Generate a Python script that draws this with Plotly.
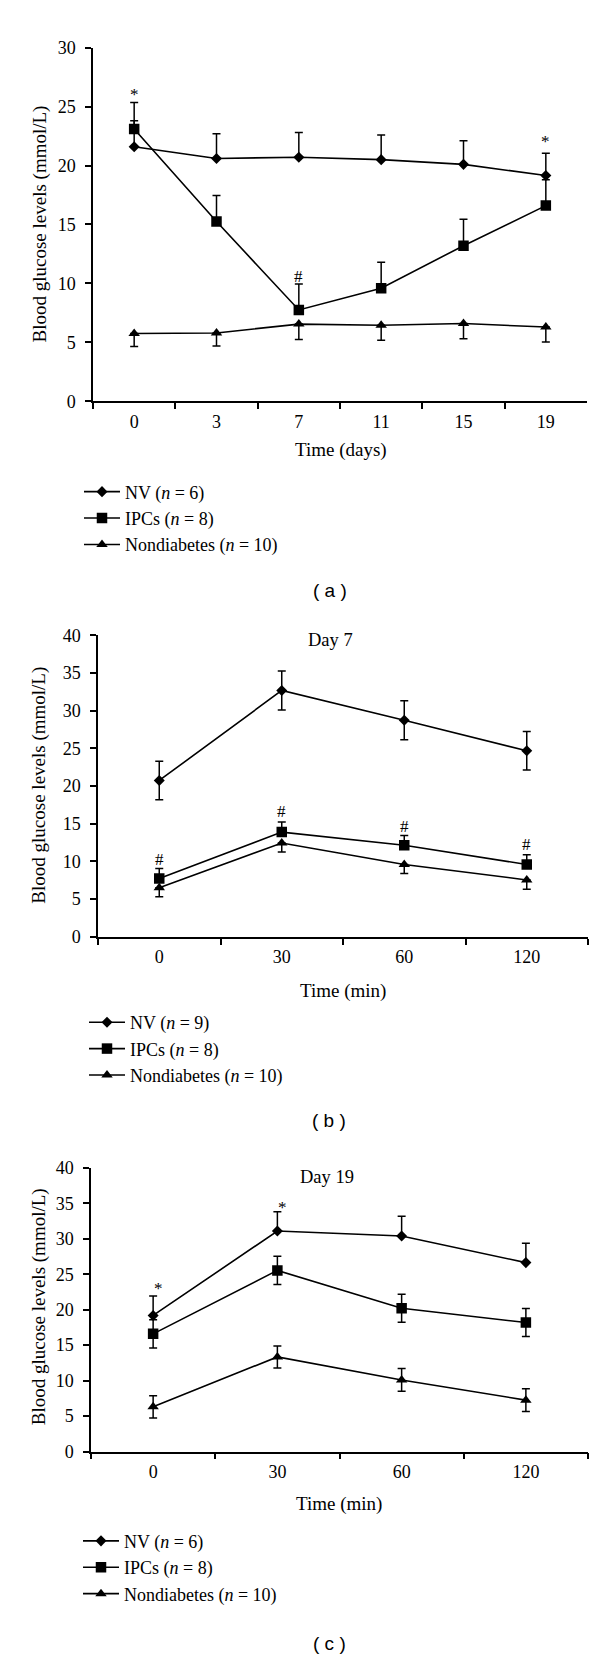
import plotly.graph_objects as go

# ---------------- data ----------------
days = ["0", "3", "7", "11", "15", "19"]
nv_a = [21.6, 20.6, 20.7, 20.5, 20.1, 19.15]
nv_a_err = [2.2, 2.1, 2.1, 2.1, 2.0, 1.9]
ipc_a = [23.1, 15.25, 7.75, 9.6, 13.2, 16.6]
ipc_a_err = [2.25, 2.2, 2.2, 2.2, 2.25, 2.2]
nd_a = [5.75, 5.8, 6.55, 6.45, 6.6, 6.3]
nd_a_err = [1.1, 1.1, 1.3, 1.26, 1.3, 1.26]

mins = ["0", "30", "60", "120"]
nv_b = [20.75, 32.7, 28.75, 24.7]
nv_b_err = [2.55, 2.6, 2.6, 2.55]
ipc_b = [7.75, 13.9, 12.15, 9.6]
ipc_b_err = [1.3, 1.35, 1.3, 1.3]
nd_b = [6.5, 12.45, 9.6, 7.55]
nd_b_err = [1.2, 1.2, 1.2, 1.25]

nv_c = [19.2, 31.1, 30.4, 26.65]
nv_c_err = [2.74, 2.74, 2.8, 2.74]
ipc_c = [16.6, 25.55, 20.2, 18.2]
ipc_c_err = [2.0, 2.0, 1.97, 1.97]
nd_c = [6.3, 13.35, 10.1, 7.25]
nd_c_err = [1.57, 1.55, 1.6, 1.6]

names_a = ["NV (<i>n</i> = 6)", "IPCs (<i>n</i> = 8)", "Nondiabetes (<i>n</i> = 10)"]
names_b = ["NV (<i>n</i> = 9)", "IPCs (<i>n</i> = 8)", "Nondiabetes (<i>n</i> = 10)"]
names_c = ["NV (<i>n</i> = 6)", "IPCs (<i>n</i> = 8)", "Nondiabetes (<i>n</i> = 10)"]

# significance marks: (category, value, symbol)
marks_a = [("0", 26.0, "*"), ("19", 22.0, "*"), ("7", 10.6, "#")]
marks_b = [("0", 10.2, "#"), ("30", 16.6, "#"), ("60", 14.6, "#"), ("120", 12.2, "#")]
marks_c = [("0", 23.0, "*"), ("30", 34.4, "*")]

SERIF = "Liberation Serif"
SANS = "Liberation Sans"
W, H = 600, 1660

fig = go.Figure()


def add(xs, ys, plus, minus, symbol, size, name, xa, ya, leg):
    fig.add_trace(go.Scatter(
        x=xs, y=ys, mode="lines+markers", name=name,
        line=dict(color="black", width=1.6),
        marker=dict(symbol=symbol, size=size, color="black"),
        error_y=dict(type="data", symmetric=False, array=plus, arrayminus=minus,
                     color="black", thickness=1.5, width=4),
        xaxis=xa, yaxis=ya, legend=leg))


z6 = [0] * 6
z4 = [0] * 4
add(days, nv_a, nv_a_err, z6, "diamond", 8.5, names_a[0], "x", "y", "legend")
add(days, ipc_a, ipc_a_err, z6, "square", 10.5, names_a[1], "x", "y", "legend")
add(days, nd_a, z6, nd_a_err, "triangle-up", 10, names_a[2], "x", "y", "legend")

add(mins, nv_b, nv_b_err, nv_b_err, "diamond", 8.5, names_b[0], "x2", "y2", "legend2")
add(mins, ipc_b, ipc_b_err, z4, "square", 10.5, names_b[1], "x2", "y2", "legend2")
add(mins, nd_b, z4, nd_b_err, "triangle-up", 10, names_b[2], "x2", "y2", "legend2")

add(mins, nv_c, nv_c_err, z4, "diamond", 8.5, names_c[0], "x3", "y3", "legend3")
add(mins, ipc_c, ipc_c_err, ipc_c_err, "square", 10.5, names_c[1], "x3", "y3", "legend3")
add(mins, nd_c, nd_c_err, nd_c_err, "triangle-up", 10, names_c[2], "x3", "y3", "legend3")


def py(p):
    return 1 - p / H


def px(p):
    return p / W


xcommon = dict(type="category", showline=True, linecolor="black", linewidth=1.5,
               ticks="outside", ticklen=6, tickwidth=1.5, tickcolor="black",
               tickson="boundaries", showgrid=False, zeroline=False,
               ticklabelstandoff=3,
               tickfont=dict(family=SERIF, size=18, color="black"))
ycommon = dict(showline=True, linecolor="black", linewidth=1.5,
               ticks="outside", ticklen=6, tickwidth=1.5, tickcolor="black",
               showgrid=False, zeroline=False, tick0=0, dtick=5,
               ticklabelstandoff=6,
               tickfont=dict(family=SERIF, size=18, color="black"))

# panel pixel boxes: (left, right, top, bottom)
box_a = (85, 579, 30, 388)
box_b = (90, 580, 625, 930)
box_c = (83, 580, 1164, 1451)

fig.update_layout(
    width=W, height=H, margin=dict(l=0, r=0, t=0, b=0),
    paper_bgcolor="white", plot_bgcolor="white",
    xaxis=dict(xcommon, domain=[px(box_a[0]), px(box_a[1])], anchor="y", range=[-0.5, 5.5]),
    yaxis=dict(ycommon, domain=[py(box_a[3]), py(box_a[2])], anchor="x", range=[0, 30]),
    xaxis2=dict(xcommon, domain=[px(box_b[0]), px(box_b[1])], anchor="y2", range=[-0.5, 3.5]),
    yaxis2=dict(ycommon, domain=[py(box_b[3]), py(box_b[2])], anchor="x2", range=[0, 40]),
    xaxis3=dict(xcommon, domain=[px(box_c[0]), px(box_c[1])], anchor="y3", range=[-0.5, 3.5]),
    yaxis3=dict(ycommon, domain=[py(box_c[3]), py(box_c[2])], anchor="x3", range=[0, 40]),
)

legcommon = dict(xanchor="left", yanchor="top", bgcolor="rgba(0,0,0,0)",
                 font=dict(family=SERIF, size=18, color="black"),
                 tracegroupgap=0, itemwidth=36)
fig.update_layout(
    legend=dict(legcommon, x=px(71), y=py(461)),
    legend2=dict(legcommon, x=px(76), y=py(998)),
    legend3=dict(legcommon, x=px(70), y=py(1523)),
)

ann = []


def text(x, y, t, size=19, family=SERIF, angle=0):
    ann.append(dict(x=px(x), y=py(y), xref="paper", yref="paper", text=t,
                    showarrow=False, textangle=angle,
                    font=dict(family=family, size=size, color="black"),
                    xanchor="center", yanchor="middle"))


# axis titles
text(32, 209, "Blood glucose levels (mmol/L)", angle=-90)
text(31, 777, "Blood glucose levels (mmol/L)", angle=-90)
text(31, 1305, "Blood glucose levels (mmol/L)", angle=-90)
text(333, 437, "Time (days)")
text(335, 985, "Time (min)")
text(331, 1504, "Time (min)")
# panel titles
text(322, 630, "Day 7", size=18.5)
text(319, 1173, "Day 19", size=18.5)
# panel labels
text(322, 579, "( a )", size=19, family=SANS)
text(321, 1116, "( b )", size=19, family=SANS)
text(321, 1645, "( c )", size=19, family=SANS)

for marks, cats, xr, yr, shift in ((marks_a, days, "x", "y", 0),
                                   (marks_b, mins, "x2", "y2", 0),
                                   (marks_c, mins, "x3", "y3", 5)):
    for cat, val, sym in marks:
        ann.append(dict(x=cats.index(cat), y=val, xref=xr, yref=yr, text=sym, showarrow=False,
                        xshift=shift, font=dict(family=SERIF, size=17, color="black"),
                        xanchor="center", yanchor="middle"))

fig.update_layout(annotations=ann)
fig.write_html("out.html")
